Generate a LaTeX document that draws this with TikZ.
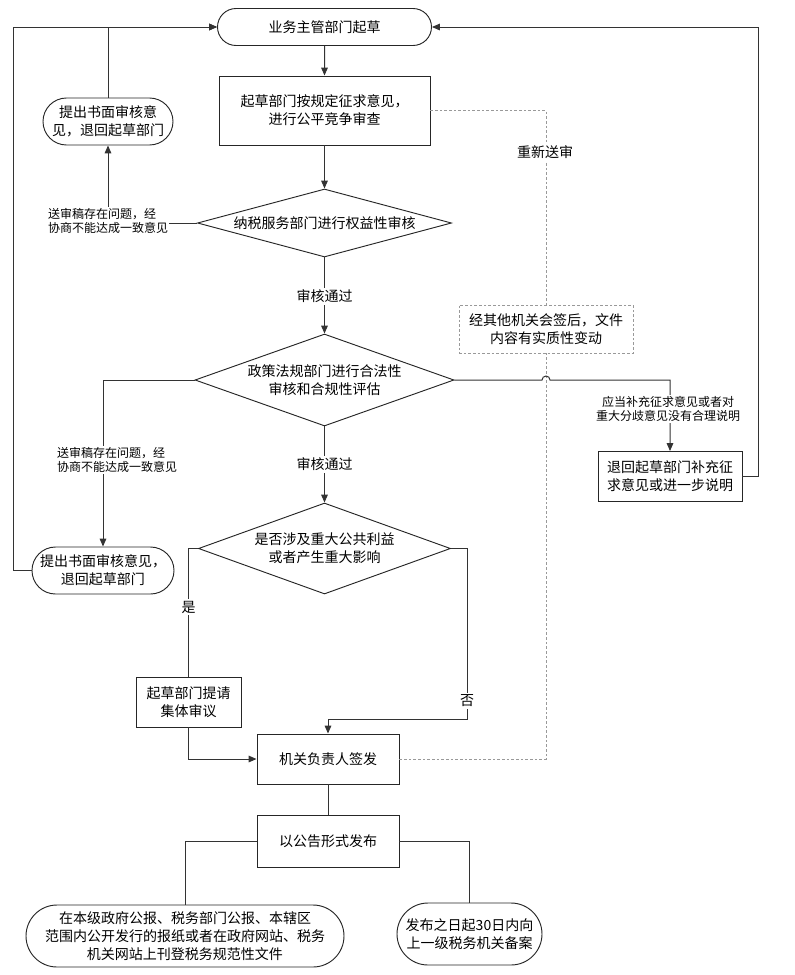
\documentclass[tikz,border=0pt]{standalone}
\usepackage{fontspec}
\setmainfont{Noto Sans CJK SC}
\usetikzlibrary{shapes.geometric,shapes.misc,arrows.meta}

\begin{document}
\begin{tikzpicture}[x=0.75pt,y=-0.75pt,
        font=\fontsize{10.5}{13.5}\selectfont,
        proc/.style={draw=black!85,line width=0.7pt,fill=white,align=center,inner sep=0pt},
        term/.style={proc,rounded rectangle},
        dec/.style={proc,diamond,aspect=#1},
        flow/.style={draw=black!80,line width=0.75pt},
        arr/.style={flow,-{Triangle[length=6pt,width=5pt]}},
        redo/.style={draw=black!40,line width=0.6pt,dash pattern=on 2pt off 1.5pt},
        lbl/.style={fill=white,inner sep=1pt,align=left,font=\fontsize{9}{11}\selectfont},
        note/.style={fill=white,inner sep=1.5pt,align=center}]
        \useasboundingbox (0,0) rectangle (795,975);

        % 主干
        \node[term,minimum width=160.5pt,minimum height=27.75pt] (start) at (324.5,27) {业务主管部门起草};
        \node[proc,minimum width=158.25pt,minimum height=51.75pt] (draft) at (324.5,110.5) {起草部门按规定征求意见，\\进行公平竞争审查};
        \node[dec=3.7,minimum width=190.5pt,minimum height=51pt] (tax) at (324.5,223) {纳税服务部门进行权益性审核};
        \node[dec=2.8,minimum width=194.25pt,minimum height=69pt] (law) at (324.5,380) {政策法规部门进行合法性\\审核和合规性评估};
        \node[dec=2.8,minimum width=189pt,minimum height=68.25pt] (big) at (324.5,548.5) {是否涉及重大公共利益\\或者产生重大影响};
        \node[proc,minimum width=106.5pt,minimum height=37.5pt] (sign) at (328,759) {机关负责人签发};
        \node[proc,minimum width=106.5pt,minimum height=39pt] (pub) at (328,841) {以公告形式发布};

        % 分支
        \node[term,minimum width=97.5pt,minimum height=35.25pt] (retA) at (108,121.5) {提出书面审核意\\见，退回起草部门};
        \node[term,minimum width=106.5pt,minimum height=35.25pt] (retB) at (103,570.5) {提出书面审核意见，\\退回起草部门};
        \node[proc,minimum width=108pt,minimum height=37.5pt] (supp) at (670,476.5) {退回起草部门补充征\\求意见或进一步说明};
        \node[proc,redo,minimum width=130.5pt,minimum height=36pt] (recheck) at (546,329) {经其他机关会签后，文件\\内容有实质性变动};
        \node[proc,minimum width=78.75pt,minimum height=37.5pt] (meet) at (188.5,702) {起草部门提请\\集体审议};
        \node[term,minimum width=238.5pt,minimum height=46.5pt] (paper) at (185,936) {在本级政府公报、税务部门公报、本辖区\\范围内公开发行的报纸或者在政府网站、税务\\机关网站上刊登税务规范性文件};
        \node[term,minimum width=108.75pt,minimum height=46.5pt] (file) at (469.5,934) {发布之日起30日内向\\上一级税务机关备案};

        \coordinate (hop) at (recheck.south |- law.east);
        \coordinate (nobend) at (467,719);

        % 连线
        \draw[arr] (start) -- (draft);
        \draw[arr] (draft) -- (tax);
        \draw[arr] (tax) -- (law);
        \draw[arr] (law) -- (big);
        \draw[arr] (tax.west) -| (retA.south);
        \draw[arr] (retA.north) |- (start.west);
        \draw[arr] (law.west) -| (retB.north);
        \draw[arr] (retB.west) -- ++(-18,0) |- (start.west);
        \draw[redo] (draft.east) -| (recheck.north);
        \draw[redo] (sign.east) -| (recheck.south);
        \draw[arr] (law.east) -- ([xshift=-3pt]hop) arc[start angle=180,end angle=0,radius=3pt] -| (supp.north);
        \draw[arr] (supp.east) -- ++(16,0) |- (start.east);
        \draw[flow] (big.west) -| (meet.north);
        \draw[arr] (meet.south) |- (sign.west);
        \draw[arr] (big.east) -| (nobend) -| (sign.north);
        \draw[flow] (sign) -- (pub);
        \draw[flow] (pub.west) -| (paper.north);
        \draw[flow] (pub.east) -| (file.north);

        % 标注
        \node[lbl] (issueA) at (108,221) {送审稿存在问题，经\\协商不能达成一致意见};
        \node[lbl] (issueB) at (117,460) {送审稿存在问题，经\\协商不能达成一致意见};
        \node[lbl,align=center] (lack) at (668,409) {应当补充征求意见或者对\\重大分歧意见没有合理说明};
        \node[note] (passA) at (324.5,296) {审核通过};
        \node[note] (passB) at (324.5,464) {审核通过};
        \node[note] (again) at (545,152) {重新送审};
        \node[note] (yes) at (188.5,607) {是};
        \node[note] (no) at (467,701) {否};
    \end{tikzpicture}
\end{document}
